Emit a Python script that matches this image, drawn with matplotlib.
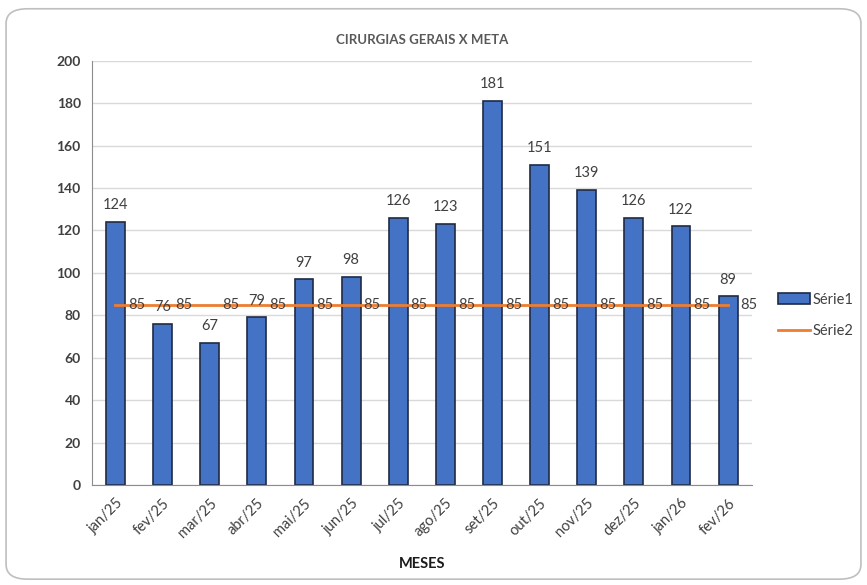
import matplotlib
matplotlib.use("Agg")
import matplotlib.pyplot as plt
from matplotlib.patches import FancyBboxPatch
import numpy as np

plt.rcParams['font.family'] = ['Lato', 'DejaVu Sans']

meses = ["jan/25", "fev/25", "mar/25", "abr/25", "mai/25", "jun/25", "jul/25",
         "ago/25", "set/25", "out/25", "nov/25", "dez/25", "jan/26", "fev/26"]
serie1 = [124, 76, 67, 79, 97, 98, 126, 123, 181, 151, 139, 126, 122, 89]
serie2 = [85] * 14

TXT = "#404040"
fig = plt.figure(figsize=(8.67, 5.85), dpi=100)
border = FancyBboxPatch((0.007, 0.01), 0.986, 0.975, boxstyle="round,pad=0,rounding_size=0.025",
                        transform=fig.transFigure, fc="none", ec="#bfbfbf", lw=1.2, zorder=-1)
fig.patches.append(border)
ax = fig.add_axes([0.106, 0.171, 0.761, 0.725])
ax.patch.set_alpha(0)
x = np.arange(len(meses))
b = ax.bar(x, serie1, width=0.4, color="#4472c4", edgecolor="#1f2a44", lw=1.2, label="Série1", zorder=2)
ln, = ax.plot(x, serie2, color="#ed7d31", lw=2, label="Série2", zorder=3)

for xi, v in zip(x, serie1):
    ax.annotate(str(v), (xi, v), xytext=(0, 7), textcoords="offset points",
                ha="center", va="bottom", fontsize=10.5, color=TXT, zorder=4)
for xi, v in zip(x, serie2):
    ax.annotate(str(v), (xi, v), xytext=(9, 0), textcoords="offset points",
                ha="left", va="center", fontsize=10.5, color=TXT, zorder=4)

ax.set_xlim(-0.5, len(meses) - 0.5)
ax.set_ylim(0, 200)
ax.set_yticks(range(0, 201, 20))
ax.set_xticks(x)
ax.set_xticklabels(meses, rotation=45, ha="right", rotation_mode="anchor", fontsize=10.5, color=TXT)
for t in ax.get_yticklabels():
    t.set_fontweight("bold"); t.set_fontsize(10); t.set_color(TXT)
ax.tick_params(length=0, pad=8)
ax.grid(axis="y", color="#d9d9d9", lw=1, zorder=0)
for s in ["top", "right"]:
    ax.spines[s].set_visible(False)
for s in ["left", "bottom"]:
    ax.spines[s].set_color("#8c8c8c")
ax.set_xlabel("MESES", fontweight="bold", fontsize=10.5, color="#1a1a1a", labelpad=12)
ax.set_title("CIRURGIAS GERAIS X META", fontweight="bold", fontsize=9.5, color="#595959", pad=12)

ax.legend([b, ln], ["Série1", "Série2"], loc="center left", bbox_to_anchor=(1.02, 0.40),
          frameon=False, fontsize=10.5, handlelength=2.2, labelspacing=1.2,
          handletextpad=0.2, labelcolor=TXT)

fig.savefig("out.png", dpi=100)
